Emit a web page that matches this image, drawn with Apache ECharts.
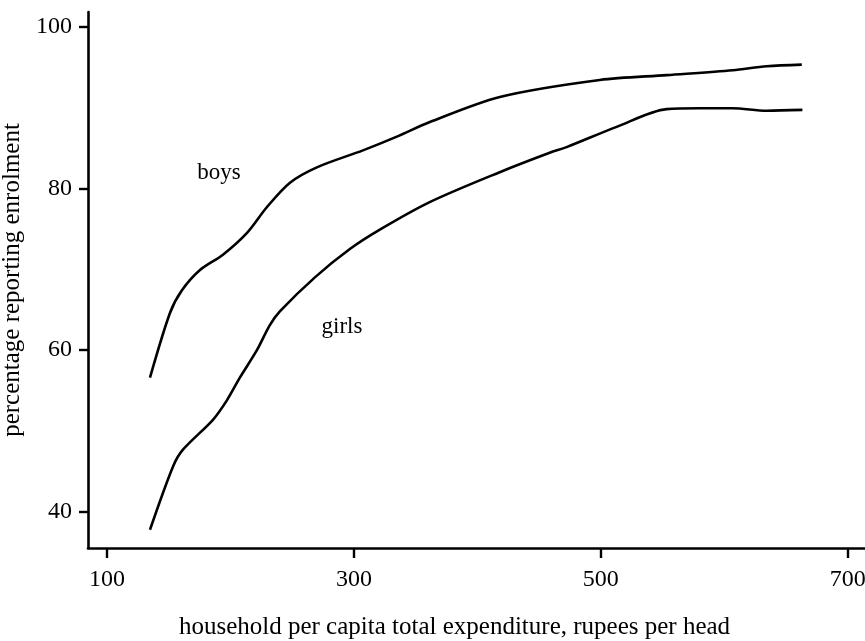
<!DOCTYPE html>
<html>
<head>
<meta charset="utf-8">
<script src="https://cdn.jsdelivr.net/npm/echarts@6/dist/echarts.min.js"></script>
<style>
html,body{margin:0;padding:0;background:#fff;}
#chart{width:865px;height:641px;}
</style>
</head>
<body>
<div id="chart"></div>
<script>
// household per capita expenditure (rupees per head) vs. percentage reporting enrolment
const boysIncome = [134.8,151,160.7,175.3,193.9,213.4,229.6,248.2,270,307.3,334.8,361.5,418.2,499.2,553.4,606.9,634.4,662.8];
const boysEnrol  = [56.6,64.6,67.4,69.9,71.8,74.5,77.7,80.7,82.6,84.7,86.4,88.2,91.3,93.4,94.0,94.6,95.1,95.3];
const girlsIncome = [134.8,153.4,161.5,185.8,197.1,207.6,221.4,231.9,240.0,268.4,296.7,321.0,361.4,418.1,458.6,472.3,512.8,553.3,580.0,606.7,634.2,663.3];
const girlsEnrol  = [37.8,45.6,47.7,51.4,53.8,56.6,60.0,63.1,64.8,69.0,72.5,74.9,78.3,82.0,84.4,85.1,87.6,89.8,89.9,89.9,89.6,89.7];
const xTicks = [100,300,500,700];
const yTicks = [40,60,80,100];
const seriesNames = ['boys','girls'];
const labelPos = [[190.7,81.9],[290.3,62.9]];

const FONT = "'Liberation Serif', 'DejaVu Serif', serif";
const zip = (a,b) => a.map((v,i)=>[v,b[i]]);

const chart = echarts.init(document.getElementById('chart'), null, {renderer:'canvas'});
const lineSeries = (name, data, pos) => ({
  name, type:'line', data, smooth:0.3, showSymbol:false, silent:true,
  lineStyle:{color:'#000', width:2.6},
  markPoint:{
    symbol:'circle', symbolSize:0, silent:true,
    label:{show:true, formatter:name, color:'#000', fontFamily:FONT, fontSize:23, position:'inside'},
    data:[{coord:pos}]
  }
});
chart.setOption({
  animation:false,
  backgroundColor:'#fff',
  grid:{left:88, right:0, top:12, bottom:93, containLabel:false, outerBoundsMode:'none'},
  xAxis:{
    type:'value', min:84.6, max:714,
    name:'household per capita total expenditure, rupees per head',
    nameLocation:'middle', nameGap:67,
    nameTextStyle:{color:'#000', fontFamily:FONT, fontSize:25, padding:[0,44,0,0]},
    axisLine:{show:true, lineStyle:{color:'#000', width:2.6}},
    axisTick:{show:true, inside:false, length:10, customValues:xTicks, lineStyle:{color:'#000', width:2.4}},
    axisLabel:{show:true, customValues:xTicks, margin:20, color:'#000', fontFamily:FONT, fontSize:24},
    splitLine:{show:false}
  },
  yAxis:{
    type:'value', min:35.55, max:101.8,
    name:'percentage reporting enrolment',
    nameLocation:'middle', nameGap:57, nameRotate:90,
    nameTextStyle:{color:'#000', fontFamily:FONT, fontSize:25},
    axisLine:{show:true, lineStyle:{color:'#000', width:2.6}},
    axisTick:{show:true, inside:false, length:9, customValues:yTicks, lineStyle:{color:'#000', width:2.4}},
    axisLabel:{show:true, customValues:yTicks, margin:16, color:'#000', fontFamily:FONT, fontSize:24},
    splitLine:{show:false}
  },
  series:[
    lineSeries(seriesNames[0], zip(boysIncome, boysEnrol), labelPos[0]),
    lineSeries(seriesNames[1], zip(girlsIncome, girlsEnrol), labelPos[1])
  ]
});
</script>
</body>
</html>
